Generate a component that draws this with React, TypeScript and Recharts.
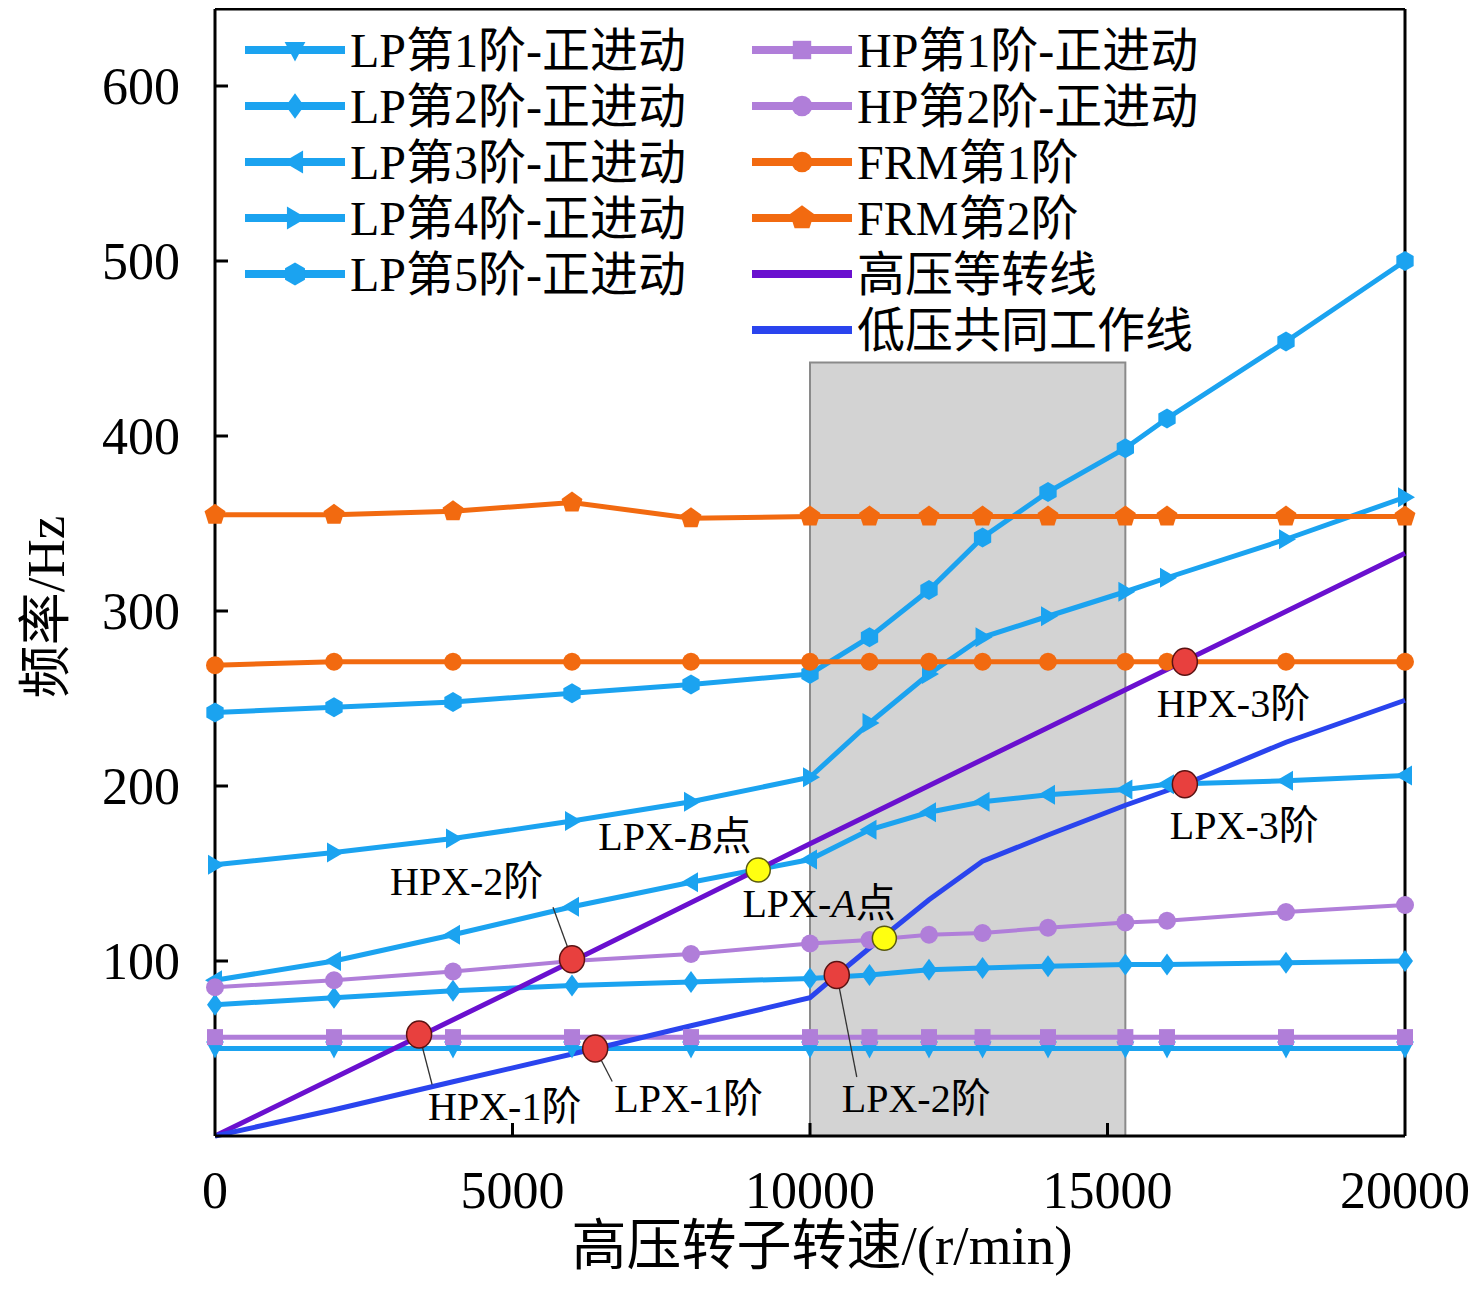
import React from "react";
import {
  ComposedChart,
  Line,
  XAxis,
  YAxis,
  ReferenceArea,
  ReferenceLine,
  Scatter,
  Legend,
} from "recharts";

// rotor speed (r/min) where the modal curves were sampled
const speeds = [0, 2000, 4000, 6000, 8000, 10000, 11000, 12000, 12900, 14000, 15300, 16000, 18000, 20000];

const lp1 = [50, 50, 50, 50, 50, 50, 50, 50, 50, 50, 50, 50, 50, 50];
const lp2 = [75, 79, 83, 86, 88, 90, 92, 95, 96, 97, 98, 98, 99, 100];
const lp3 = [89, 100, 115, 131, 145, 158, 175, 185, 191, 195, 198, 201, 203, 206];
const lp4 = [155, 162, 170, 180, 191, 205, 236, 264, 285, 297, 311, 319, 341, 365];
const lp5 = [242, 245, 248, 253, 258, 264, 285, 312, 342, 368, 393, 410, 454, 500];
const hp1 = [56.5, 56.5, 56.5, 56.5, 56.5, 56.5, 56.5, 56.5, 56.5, 56.5, 56.5, 56.5, 56.5, 56.5];
const hp2 = [85, 89, 94, 100, 104, 110, 112, 115, 116, 119, 122, 123, 128, 132];
const frm1 = [269, 271, 271, 271, 271, 271, 271, 271, 271, 271, 271, 271, 271, 271];
const frm2 = [355, 355, 357, 362, 353, 354, 354, 354, 354, 354, 354, 354, 354, 354];

// 高压等转线
const hpIsoSpeeds = [0, 5000, 10000, 15000, 20000];
const hpIso = [0, 83, 167, 250, 333];

// 低压共同工作线
const lpWorkSpeeds = [0, 2000, 4000, 6400, 8000, 10000, 10450, 11200, 12000, 12900, 14000, 15300, 16300, 18000, 20000];
const lpWork = [0, 15, 31, 50, 63, 79, 92, 113, 135, 157, 172, 189, 201, 225, 249];

// crossing points
const crossNames = ["HPX-1阶", "LPX-1阶", "HPX-2阶", "LPX-2阶", "HPX-3阶", "LPX-3阶", "LPX-B点", "LPX-A点"];
const crossSpeeds = [3430, 6390, 6000, 10450, 16300, 16300, 9130, 11250];
const crossFreqs = [58, 50, 101, 92, 271, 201, 152, 113];

const shadeRange = [10000, 15300];
const shadeTop = 442;

const xTicks = [0, 5000, 10000, 15000, 20000];
const yTicks = [100, 200, 300, 400, 500, 600];

const FONT = "'Liberation Serif', 'Times New Roman', 'Noto Sans CJK SC', serif";
const LP_BLUE = "#1ba3f0";
const HP_LILAC = "#b07ed9";
const FRM_ORANGE = "#f26a10";

type MarkerKind = "triDown" | "diamond" | "triLeft" | "triRight" | "hexagon" | "square" | "circle" | "pentagon" | "none";

const series = [
  { id: "lp1", name: "LP第1阶-正进动", values: lp1, color: LP_BLUE, marker: "triDown" as MarkerKind, width: 5 },
  { id: "lp2", name: "LP第2阶-正进动", values: lp2, color: LP_BLUE, marker: "diamond" as MarkerKind, width: 5 },
  { id: "lp3", name: "LP第3阶-正进动", values: lp3, color: LP_BLUE, marker: "triLeft" as MarkerKind, width: 5 },
  { id: "lp4", name: "LP第4阶-正进动", values: lp4, color: LP_BLUE, marker: "triRight" as MarkerKind, width: 5 },
  { id: "lp5", name: "LP第5阶-正进动", values: lp5, color: LP_BLUE, marker: "hexagon" as MarkerKind, width: 5 },
  { id: "hp1", name: "HP第1阶-正进动", values: hp1, color: HP_LILAC, marker: "square" as MarkerKind, width: 5 },
  { id: "hp2", name: "HP第2阶-正进动", values: hp2, color: HP_LILAC, marker: "circle" as MarkerKind, width: 4 },
  { id: "frm1", name: "FRM第1阶", values: frm1, color: FRM_ORANGE, marker: "circle" as MarkerKind, width: 5 },
  { id: "frm2", name: "FRM第2阶", values: frm2, color: FRM_ORANGE, marker: "pentagon" as MarkerKind, width: 5 },
];

const extraLines = [
  { id: "hpIso", name: "高压等转线", xs: hpIsoSpeeds, values: hpIso, color: "#6a10cf" },
  { id: "lpWork", name: "低压共同工作线", xs: lpWorkSpeeds, values: lpWork, color: "#2a44ee" },
];

const toPoints = (xs: number[], ys: number[]) => xs.map((x, i) => ({ x, v: ys[i] }));

const polygon = (cx: number, cy: number, r: number, n: number, start: number) =>
  Array.from({ length: n }, (_, k) => {
    const a = start + (k * 2 * Math.PI) / n;
    return `${cx + r * Math.cos(a)},${cy + r * Math.sin(a)}`;
  }).join(" ");

function Marker({ kind, cx, cy, color, s = 1 }: { kind: MarkerKind; cx: number; cy: number; color: string; s?: number }) {
  switch (kind) {
    case "triDown":
      return <polygon points={`${cx - 9 * s},${cy - 7 * s} ${cx + 9 * s},${cy - 7 * s} ${cx},${cy + 10 * s}`} fill={color} />;
    case "diamond":
      return <polygon points={`${cx},${cy - 11 * s} ${cx + 8 * s},${cy} ${cx},${cy + 11 * s} ${cx - 8 * s},${cy}`} fill={color} />;
    case "triLeft":
      return <polygon points={`${cx - 10 * s},${cy} ${cx + 7 * s},${cy - 10 * s} ${cx + 7 * s},${cy + 10 * s}`} fill={color} />;
    case "triRight":
      return <polygon points={`${cx + 10 * s},${cy} ${cx - 7 * s},${cy - 10 * s} ${cx - 7 * s},${cy + 10 * s}`} fill={color} />;
    case "hexagon":
      return <polygon points={polygon(cx, cy, 10 * s, 6, -Math.PI / 2)} fill={color} />;
    case "square":
      return <rect x={cx - 8 * s} y={cy - 8 * s} width={16 * s} height={16 * s} fill={color} />;
    case "circle":
      return <circle cx={cx} cy={cy} r={9 * s} fill={color} />;
    case "pentagon":
      return <polygon points={polygon(cx, cy, 11 * s, 5, -Math.PI / 2)} fill={color} />;
    default:
      return null;
  }
}

const YTick = ({ x, y, payload }: any) => (
  <g>
    <line x1={x + 35} x2={x + 48} y1={y} y2={y} stroke="#000" strokeWidth={3} />
    <text x={x} y={y + 18} textAnchor="end" fontSize={52} fontFamily={FONT} fill="#000">
      {payload.value}
    </text>
  </g>
);

const XTick = ({ x, y, payload }: any) => (
  <g>
    {payload.value > 0 && payload.value < 20000 && (
      <line x1={x} x2={x} y1={y} y2={y - 13} stroke="#000" strokeWidth={3} />
    )}
    <text x={x} y={y + 72} textAnchor="middle" fontSize={52} fontFamily={FONT} fill="#000">
      {payload.value}
    </text>
  </g>
);

// label placement relative to each dot, in pixels
const crossLayout: Record<string, { dx: number; dy: number; lead?: [number, number] }> = {
  "HPX-1阶": { dx: 9, dy: 85, lead: [13, 50] },
  "LPX-1阶": { dx: 19, dy: 63, lead: [17, 33] },
  "HPX-2阶": { dx: -182, dy: -64, lead: [-19, -52] },
  "LPX-2阶": { dx: 5, dy: 137, lead: [20, 102] },
  "HPX-3阶": { dx: -28, dy: 55 },
  "LPX-3阶": { dx: -15, dy: 55 },
  "LPX-B点": { dx: -160, dy: -20 },
  "LPX-A点": { dx: -142, dy: -21 },
};

const crossData = crossNames.map((name, i) => ({ name, x: crossSpeeds[i], y: crossFreqs[i] }));

const CrossDot = (props: any) => {
  const { cx, cy, payload } = props;
  const lay = crossLayout[payload.name];
  const yellow = payload.name.endsWith("点");
  const m = payload.name.match(/^(LPX-)([AB])(点)$/);
  return (
    <g>
      {lay.lead && (
        <line x1={cx} y1={cy} x2={cx + lay.lead[0]} y2={cy + lay.lead[1]} stroke="#333" strokeWidth={1.3} />
      )}
      <ellipse
        cx={cx}
        cy={cy}
        rx={yellow ? 12 : 12.5}
        ry={yellow ? 12 : 13.5}
        fill={yellow ? "#ffff10" : "#e8403e"}
        stroke={yellow ? "#5a5a10" : "#5a1212"}
        strokeWidth={1.5}
      />
      <text x={cx + lay.dx} y={cy + lay.dy} fontSize={40} fontFamily={FONT} fill="#000">
        {m ? (
          <>
            {m[1]}
            <tspan fontStyle="italic">{m[2]}</tspan>
            {m[3]}
          </>
        ) : (
          payload.name
        )}
      </text>
    </g>
  );
};

const legendLeft = series.slice(0, 5);
const legendRight = [
  ...series.slice(5).map((s) => ({ name: s.name, color: s.color, marker: s.marker })),
  ...extraLines.map((l) => ({ name: l.name, color: l.color, marker: "none" as MarkerKind })),
];

const renderLegend = () => {
  const row = 56;
  const item = (it: { name: string; color: string; marker: MarkerKind }, i: number, x0: number) => {
    const cy = 42 + i * row;
    return (
      <g key={it.name}>
        <line x1={x0} x2={x0 + 100} y1={cy} y2={cy} stroke={it.color} strokeWidth={8} />
        <Marker kind={it.marker} cx={x0 + 50} cy={cy} color={it.color} s={1.15} />
        <text x={x0 + 105} y={cy + 17} fontSize={48} fontFamily={FONT} fill="#000">
          {it.name}
        </text>
      </g>
    );
  };
  return (
    <svg width={1050} height={360} style={{ display: "block" }}>
      {legendLeft.map((it, i) => item(it, i, 0))}
      {legendRight.map((it, i) => item(it, i, 507))}
    </svg>
  );
};

export default function App() {
  return (
    <div style={{ width: 1468, height: 1290, fontFamily: FONT }}>
      <ComposedChart width={1468} height={1290} margin={{ top: 1, right: 71, bottom: 0, left: 0 }}>
        <XAxis
          type="number"
          dataKey="x"
          domain={[0, 20000]}
          ticks={xTicks}
          height={162}
          tickSize={0}
          tickMargin={0}
          tick={<XTick />}
          axisLine={{ stroke: "#000", strokeWidth: 3 }}
          tickLine={false}
          allowDuplicatedCategory={false}
          label={{
            content: ({ viewBox }: any) => (
              <text
                x={viewBox.x + viewBox.width / 2 + 12}
                y={viewBox.y + 128}
                textAnchor="middle"
                fontSize={55}
                fontFamily={FONT}
                fill="#000"
              >
                高压转子转速/(r/min)
              </text>
            ),
          }}
        />
        <YAxis
          type="number"
          domain={[0, 644]}
          ticks={yTicks}
          width={207}
          tickSize={0}
          tickMargin={35}
          tick={<YTick />}
          axisLine={{ stroke: "#000", strokeWidth: 3 }}
          tickLine={false}
          label={{
            content: ({ viewBox }: any) => {
              const cx = viewBox.x + 38;
              const cy = viewBox.y + 598;
              return (
                <text
                  x={cx}
                  y={cy}
                  transform={`rotate(-90 ${cx} ${cy})`}
                  textAnchor="middle"
                  dominantBaseline="central"
                  fontSize={53}
                  fontFamily={FONT}
                  fill="#000"
                >
                  频率/Hz
                </text>
              );
            },
          }}
        />
        <ReferenceArea
          x1={shadeRange[0]}
          x2={shadeRange[1]}
          y1={0}
          y2={shadeTop}
          fill="#d3d3d3"
          fillOpacity={1}
          stroke="#8a8a8a"
          strokeWidth={2}
        />
        <ReferenceLine y={644} stroke="#000" strokeWidth={3} />
        <ReferenceLine x={20000} stroke="#000" strokeWidth={3} />
        {series.map((s) => (
          <Line
            key={s.id}
            data={toPoints(speeds, s.values)}
            dataKey="v"
            name={s.name}
            stroke={s.color}
            strokeWidth={s.width}
            isAnimationActive={false}
            activeDot={false}
            dot={(p: any) => (
              <Marker key={`${s.id}-${p.index}`} kind={s.marker} cx={p.cx} cy={p.cy} color={s.color} />
            )}
          />
        ))}
        {extraLines.map((l) => (
          <Line
            key={l.id}
            data={toPoints(l.xs, l.values)}
            dataKey="v"
            name={l.name}
            stroke={l.color}
            strokeWidth={5}
            dot={false}
            activeDot={false}
            isAnimationActive={false}
          />
        ))}
        <Scatter data={crossData} dataKey="y" shape={CrossDot} isAnimationActive={false} zIndex={2000} />
        <Legend
          layout="vertical"
          align="center"
          verticalAlign="middle"
          content={renderLegend}
          wrapperStyle={{ left: 237, top: 0, width: 1050, height: 360 }}
        />
      </ComposedChart>
    </div>
  );
}
